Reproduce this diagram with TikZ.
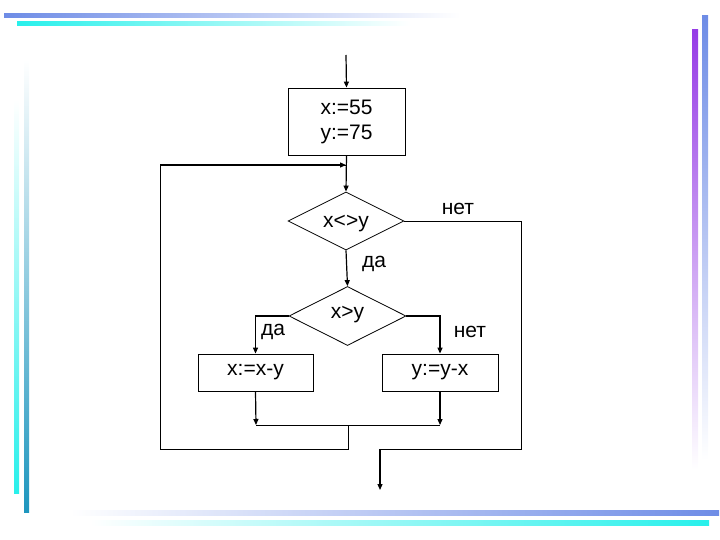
\documentclass[tikz,border=0pt]{standalone}
\usepackage{fontspec}
\setmainfont{Liberation Sans}
\usetikzlibrary{shapes.geometric,arrows.meta}
\definecolor{bblue}{RGB}{110,140,230}
\definecolor{ccyan}{RGB}{40,240,235}
\definecolor{ppurple}{RGB}{150,60,230}
\definecolor{tteal}{RGB}{30,150,190}
\begin{document}
\begin{tikzpicture}[x=1pt,y=-1pt,
  box/.style={draw,line width=0.8pt,inner sep=0pt,font=\fontsize{21}{25}\selectfont},
  dia/.style={draw,diamond,line width=0.8pt,inner sep=0pt},
  lbl/.style={font=\fontsize{21}{25}\selectfont},
  ln/.style={line width=0.8pt},
  ar/.style={line width=1.2pt,-{Triangle[length=6pt,width=5pt]}}]
\useasboundingbox (0,0) rectangle (720,540);
% decorations
\shade[left color=bblue,right color=white] (4,14) rectangle (460,18);
\shade[left color=ccyan,right color=white] (17,22) rectangle (410,26);
\shade[right color=bblue,left color=white] (70,510) rectangle (719,515);
\shade[right color=ccyan,left color=white] (90,520) rectangle (709,525);
\shade[top color=white,bottom color=ccyan] (14,100) rectangle (19,493);
\shade[top color=white,bottom color=tteal] (24,60) rectangle (29,512);
\shade[bottom color=white,top color=ppurple] (692,30) rectangle (698,470);
\shade[bottom color=white,top color=bblue] (702,16) rectangle (708,460);
% nodes
\node[box,minimum width=117pt,minimum height=67pt,align=center] (init) at (346.5,121.5) {x:=55\\y:=75};
\node[dia,minimum width=116pt,minimum height=58pt] (d1) at (346,221) {};
\node[lbl] at (346,224) {x<>y};
\node[dia,minimum width=117pt,minimum height=59pt] (d2) at (347.5,316) {};
\node[lbl] at (347.5,315) {x>y};
\node[box,minimum width=115pt,minimum height=37pt] (b1) at (255.5,372.5) {x:=x-y};
\node[box,minimum width=116pt,minimum height=37pt] (b2) at (440,372.5) {y:=y-x};
\coordinate (start) at (346,55);
\coordinate (m1) at (256,425);
\coordinate (m2) at (440,425);
\coordinate (mm) at (348,425);
\coordinate (end) at (380,490);
% connectors
\draw[ar] (start) -- (init.north);
\draw[ar] (init.south) -- (d1.north);
\draw[ar] (d1.south) -- (d2.north);
\draw[ar] (d2.west) -| (b1.north);
\draw[ar] (d2.east) -| (b2.north);
\draw[ar] (b1.south) -- (m1);
\draw[ar] (b2.south) -- (m2);
\draw[ln] (m1) -- (m2);
\draw[ln] (mm) |- (160,449) |- (346,165);
\draw[ar] (160,165) -- (346,165);
\draw[ln] (d1.east) -| (521,449) -| (380,460);
\draw[ar] (380,449) -- (end);
% labels
\node[lbl] at (374,264) {да};
\node[lbl] at (273,332) {да};
\node[lbl] at (458,209) {нет};
\node[lbl] at (470,332) {нет};
\end{tikzpicture}
\end{document}
